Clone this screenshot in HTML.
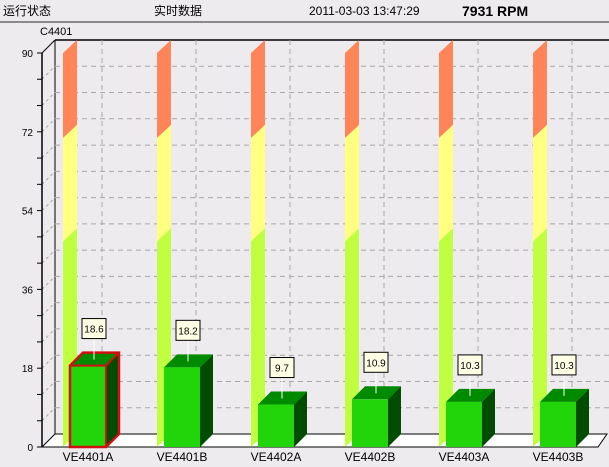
<!DOCTYPE html>
<html><head><meta charset="utf-8"><style>
body{margin:0;background:#EEEBEE;width:609px;height:467px;overflow:hidden;font-family:"Liberation Sans","Noto Sans CJK SC",sans-serif}
svg{position:absolute;left:0;top:0}
</style></head><body>
<svg id="c" width="609" height="467">
<text x="3" y="15" font-size="12">运行状态</text>
<text x="154" y="15" font-size="12">实时数据</text>
<text x="309" y="15" font-size="12">2011-03-03 13:47:29</text>
<text x="462" y="16" font-size="14" font-weight="bold">7931 RPM</text>
<rect x="0" y="21" width="609" height="2" fill="#8a8a8a"/>
<text x="40" y="35" font-size="11">C4401</text>
</svg>
<script>
const categories=["VE4401A","VE4401B","VE4402A","VE4402B","VE4403A","VE4403B"];
const values=[18.6,18.2,9.7,10.9,10.3,10.3];
const bandLimits=[0,47,70.6,90];
const bandColors=["#C0FF40","#FFFF80","#FF8458"];
const yTicks=[0,18,36,54,72,90];
const minorStep=6;
const yMax=90;
const svg=document.getElementById('c');
const NS="http://www.w3.org/2000/svg";
const X0=42,Y0=447,Y90=53,D=13,STEP=94;
function yF(v){return Y0-(v/yMax)*(Y0-Y90);}
function add(tag,attrs,name){const e=document.createElementNS(NS,tag);for(const k in attrs)e.setAttribute(k,attrs[k]);


svg.appendChild(e);return e;}
// back wall top line
add('line',{x1:X0+D,y1:Y90-D,x2:609,y2:Y90-D,stroke:'#000','stroke-width':1.5},'plot-top-border');
add('line',{x1:X0,y1:Y90,x2:X0+D,y2:Y90-D,stroke:'#000'},'side-top-edge');
add('line',{x1:X0+D,y1:Y90-D,x2:X0+D,y2:Y0-D,stroke:'#000'},'back-wall-left-edge');
// horizontal grid
for(let v=minorStep;v<=yMax-minorStep;v+=minorStep){
 add('line',{x1:X0+D,y1:yF(v)-D,x2:609,y2:yF(v)-D,stroke:'#a8a8a8','stroke-dasharray':'5,4'},'h-gridline');
 add('line',{x1:X0,y1:yF(v),x2:X0+D,y2:yF(v)-D,stroke:'#a8a8a8','stroke-dasharray':'3,3'},'side-gridline');
}
// vertical grid
for(let i=0;i<categories.length;i++){
 const x=102+i*STEP;
 add('line',{x1:x,y1:Y90-D,x2:x,y2:Y0-D,stroke:'#a8a8a8','stroke-dasharray':'5,4'},'v-gridline');
}
// floor
add('polygon',{points:`${X0},${Y0} ${X0+D},${Y0-D} 607,${Y0-D} 598,${Y0}`,fill:'#fff',stroke:'#000'},'floor');
// axis
add('line',{x1:X0,y1:Y90,x2:X0,y2:Y0,stroke:'#000','stroke-width':1.5},'y-axis');
for(let v=0;v<=yMax;v+=minorStep){
 add('line',{x1:X0-5,y1:yF(v),x2:X0,y2:yF(v),stroke:'#000'},'y-tick');
}
yTicks.forEach(v=>{const t=add('text',{x:33,y:yF(v)+4,'font-size':10,'text-anchor':'end'},'y-tick-label');t.textContent=v;});
// bands and bars
categories.forEach((c,i)=>{
 const sx=63+i*STEP;
 for(let b=0;b<bandColors.length;b++){
  const a=yF(bandLimits[b]),z=yF(bandLimits[b+1]);
  add('polygon',{points:`${sx},${a} ${sx+14},${a-13} ${sx+14},${z-13} ${sx},${z}`,fill:bandColors[b]},'band-'+b);
 }
 const bx=70+i*STEP,bw=36,top=yF(values[i]);
 add('polygon',{points:`${bx},${top} ${bx+D},${top-D} ${bx+bw+D},${top-D} ${bx+bw},${top}`,fill:'#008A00'},'bar-top');
 add('polygon',{points:`${bx+bw},${top} ${bx+bw+D},${top-D} ${bx+bw+D},${Y0-D} ${bx+bw},${Y0}`,fill:'#004C00'},'bar-side');
 add('rect',{x:bx,y:top,width:bw,height:Y0-top,fill:'#22D40A'},'bar-'+c);
 if(i===0){
  add('polygon',{points:`${bx},${top} ${bx+D},${top-D} ${bx+bw+D},${top-D} ${bx+bw+D},${Y0-D} ${bx+bw},${Y0} ${bx},${Y0}`,fill:'none',stroke:'#d01010','stroke-width':2.5},'bar-selected-outline');
  add('polyline',{points:`${bx},${top} ${bx+bw},${top} ${bx+bw+D},${top-D} M0 0`,fill:'none',stroke:'#d01010','stroke-width':2},'bar-selected-edge');
  add('line',{x1:bx+bw,y1:top,x2:bx+bw,y2:Y0,stroke:'#d01010','stroke-width':2},'bar-selected-edge2');
 }
 const cx=bx+bw/2+6;
 add('line',{x1:cx,y1:top-27,x2:cx,y2:top-6,stroke:'#fff'},'value-leader');
 add('rect',{x:cx-12,y:top-47,width:24,height:20,fill:'#FFFFE6',stroke:'#000'},'value-box');
 const t=add('text',{x:cx,y:top-33,'font-size':10,'text-anchor':'middle'},'value-label');t.textContent=values[i];
 const l=add('text',{x:bx+bw/2,y:461,'font-size':12,'text-anchor':'middle'},'x-label');l.textContent=c;
});
</script>
</body></html>
